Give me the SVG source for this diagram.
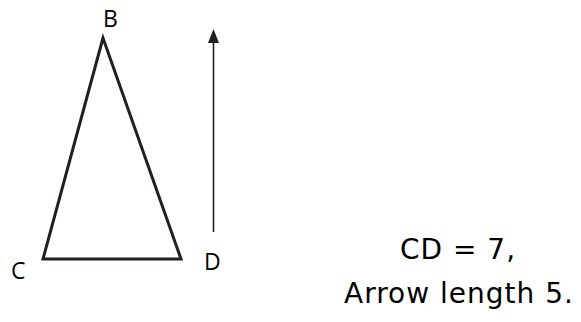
<svg xmlns="http://www.w3.org/2000/svg" width="581" height="322" viewBox="0 0 581 322">
<style>
.lbl{font-family:"Open Sans","Noto Sans",sans-serif;font-size:23px;fill:#000}
.txt{font-family:"DejaVu Sans",Verdana,sans-serif;font-size:28px;letter-spacing:1px;fill:#000}
.edge{fill:none;stroke:#231f20;stroke-width:3;stroke-linejoin:miter}
</style>
<g id="triangle">
<polygon class="edge" points="103,38 43,259 181,259"/>
</g>
<g id="B"><text class="lbl" x="103" y="27">B</text></g>
<g id="C"><text class="lbl" x="11" y="279">C</text></g>
<g id="D"><text class="lbl" x="204" y="270">D</text></g>
<g id="connectors">
<line x1="213.5" y1="232" x2="213.5" y2="42" stroke="#231f20" stroke-width="1.6"/>
<path d="M208,43 L213.5,29 L219,43 Z" fill="#231f20"/>
</g>
<g id="notes">
<text class="txt" x="400" y="259" xml:space="preserve">CD = 7,</text>
<text class="txt" x="344" y="303">Arrow length 5.</text>
</g>
</svg>
